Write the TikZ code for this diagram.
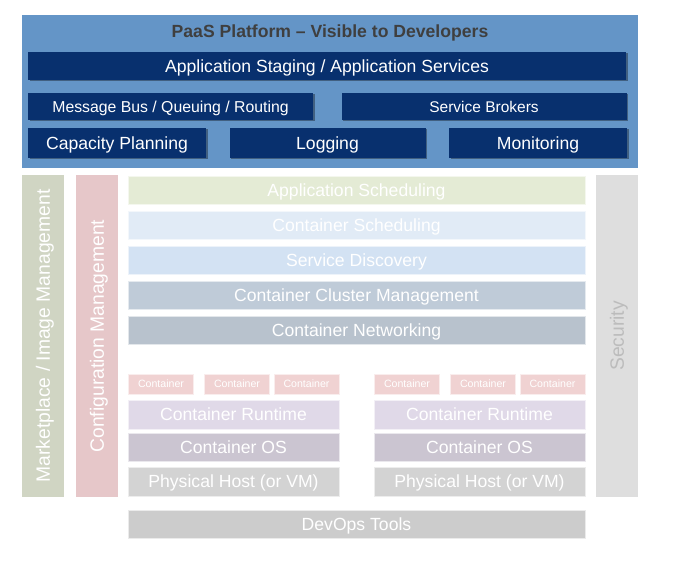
\documentclass[tikz,border=0pt]{standalone}
\usepackage{fontspec}
\setmainfont{Liberation Sans}
\usetikzlibrary{shadows}
\definecolor{bluebg}{HTML}{6495C7}
\definecolor{navy}{HTML}{08306E}
\definecolor{titlegray}{HTML}{3F3F3F}
\definecolor{cAppSched}{HTML}{E4EBD5}
\definecolor{cContSched}{HTML}{E1EBF6}
\definecolor{cServDisc}{HTML}{D3E2F3}
\definecolor{cCluster}{HTML}{BFCBD8}
\definecolor{cNetwork}{HTML}{B8C2CD}
\definecolor{cContainer}{HTML}{F0D2D2}
\definecolor{cRuntime}{HTML}{E0D9E8}
\definecolor{cOS}{HTML}{CBC5D1}
\definecolor{cHost}{HTML}{D3D3D3}
\definecolor{cDevOps}{HTML}{CCCCCC}
\definecolor{cMarket}{HTML}{D0D5C3}
\definecolor{cConfig}{HTML}{E6C7C9}
\definecolor{cSecurity}{HTML}{DEDEDE}
\definecolor{cSecText}{HTML}{BCBCBC}
\begin{document}
\begin{tikzpicture}[x=1pt,y=-1pt,
  fsize/.style={font=\fontsize{#1}{#1}\selectfont, text height=0.716*#1 pt, text depth=0pt},
  box/.style={inner sep=0pt, outer sep=0pt, text=white, fsize=17.6},
  navybox/.style={box, fill=navy, drop shadow={shadow xshift=1.5pt, shadow yshift=-1.5pt, opacity=0.35, fill=black}},
  lightbox/.style={box, draw=white!60!#1, line width=0.6pt, fill=#1},
  colbox/.style={box, fill=#1, rotate=90, minimum width=322pt, minimum height=42pt, fsize=19.3},
  smallbox/.style={lightbox=cContainer, minimum width=65pt, minimum height=20pt, fsize=10.6},
  titletext/.style={inner sep=0pt, text=titlegray, text height=12.6pt, text depth=0pt, font={\bfseries\fontsize{17.6}{17.6}\selectfont}}
]
\useasboundingbox (0,0) rectangle (675,572);
\fill[white] (0,0) rectangle (675,572);

% PaaS platform
\node[box, fill=bluebg, minimum width=616pt, minimum height=153pt] (paas) at (330,91.5) {};
\node[titletext] (title) at (330,31) {PaaS Platform – Visible to Developers};
\node[navybox, minimum width=598pt, minimum height=28pt] (staging) at (327,66) {Application Staging / Application Services};
\node[navybox, minimum width=285pt, minimum height=27pt, fsize=15.8] (msgbus) at (170.5,106.5) {Message Bus / Queuing / Routing};
\node[navybox, minimum width=285pt, minimum height=27pt, fsize=15.5] (brokers) at (484,106.5) {Service Brokers};
\node[navybox, minimum width=178pt, minimum height=30pt] (capacity) at (117,143) {Capacity Planning};
\node[navybox, minimum width=196pt, minimum height=30pt] (logging) at (327.5,143) {Logging};
\node[navybox, minimum width=178pt, minimum height=30pt] (monitoring) at (538,143) {Monitoring};

% side columns
\node[colbox=cMarket] (market) at (43,336) {Marketplace / Image Management};
\node[colbox=cConfig] (config) at (97,336) {Configuration Management};
\node[colbox=cSecurity, text=cSecText] (security) at (617,336) {Security};

% central stack
\node[lightbox=cAppSched, minimum width=457pt, minimum height=28pt] (appsched) at (356.5,190) {Application Scheduling};
\node[lightbox=cContSched, minimum width=457pt, minimum height=28pt] (contsched) at (356.5,225) {Container Scheduling};
\node[lightbox=cServDisc, minimum width=457pt, minimum height=28pt] (servdisc) at (356.5,260) {Service Discovery};
\node[lightbox=cCluster, minimum width=457pt, minimum height=28pt] (cluster) at (356.5,295.5) {Container Cluster Management};
\node[lightbox=cNetwork, minimum width=457pt, minimum height=28pt] (network) at (356.5,330.5) {Container Networking};

% left host
\node[smallbox] (c1) at (161,384) {Container};
\node[smallbox] (c2) at (237,384) {Container};
\node[smallbox] (c3) at (306.5,384) {Container};
\node[lightbox=cRuntime, minimum width=211pt, minimum height=29pt] (rt1) at (233.5,414.5) {Container Runtime};
\node[lightbox=cOS, minimum width=211pt, minimum height=28pt] (os1) at (233.5,447) {Container OS};
\node[lightbox=cHost, minimum width=211pt, minimum height=29pt] (host1) at (233.5,481.5) {Physical Host (or VM)};

% right host
\node[smallbox] (c4) at (407,384) {Container};
\node[smallbox] (c5) at (483,384) {Container};
\node[smallbox] (c6) at (552.5,384) {Container};
\node[lightbox=cRuntime, minimum width=211pt, minimum height=29pt] (rt2) at (479.5,414.5) {Container Runtime};
\node[lightbox=cOS, minimum width=211pt, minimum height=28pt] (os2) at (479.5,447) {Container OS};
\node[lightbox=cHost, minimum width=211pt, minimum height=29pt] (host2) at (479.5,481.5) {Physical Host (or VM)};

% devops
\node[lightbox=cDevOps, minimum width=457pt, minimum height=28pt] (devops) at (356.5,524) {DevOps Tools};
\end{tikzpicture}
\end{document}
